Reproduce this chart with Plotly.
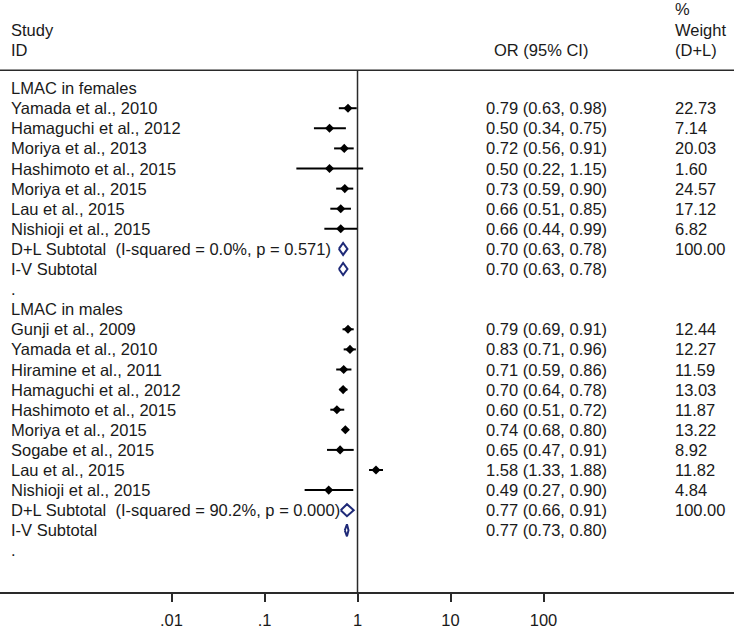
import plotly.graph_objects as go

# Studies and estimates
female_studies = ["Yamada et al., 2010", "Hamaguchi et al., 2012", "Moriya et al., 2013",
                  "Hashimoto et al., 2015", "Moriya et al., 2015", "Lau et al., 2015",
                  "Nishioji et al., 2015"]
female_or = [0.79, 0.50, 0.72, 0.50, 0.73, 0.66, 0.66]
female_lo = [0.63, 0.34, 0.56, 0.22, 0.59, 0.51, 0.44]
female_hi = [0.98, 0.75, 0.91, 1.15, 0.90, 0.85, 0.99]
female_weight = ["22.73", "7.14", "20.03", "1.60", "24.57", "17.12", "6.82"]
female_dl = [0.70, 0.63, 0.78]
female_iv = [0.70, 0.63, 0.78]
female_dl_label = "D+L Subtotal\u00a0\u00a0(I-squared = 0.0%, p = 0.571)"

male_studies = ["Gunji et al., 2009", "Yamada et al., 2010", "Hiramine et al., 2011",
                "Hamaguchi et al., 2012", "Hashimoto et al., 2015", "Moriya et al., 2015",
                "Sogabe et al., 2015", "Lau et al., 2015", "Nishioji et al., 2015"]
male_or = [0.79, 0.83, 0.71, 0.70, 0.60, 0.74, 0.65, 1.58, 0.49]
male_lo = [0.69, 0.71, 0.59, 0.64, 0.51, 0.68, 0.47, 1.33, 0.27]
male_hi = [0.91, 0.96, 0.86, 0.78, 0.72, 0.80, 0.91, 1.88, 0.90]
male_weight = ["12.44", "12.27", "11.59", "13.03", "11.87", "13.22", "8.92", "11.82", "4.84"]
male_dl = [0.77, 0.66, 0.91]
male_iv = [0.77, 0.73, 0.80]
male_dl_label = "D+L Subtotal\u00a0\u00a0(I-squared = 90.2%, p = 0.000)"

tick_vals = [0.01, 0.1, 1, 10, 100]
tick_text = [".01", ".1", "1", "10", "100"]

FONT = "Liberation Sans, Arial, sans-serif"
FS = 16.5
TXT = "#1a1a1a"
NAVY = "#1f2a78"

# build the row list: (kind, label, or, lo, hi, weight)
rows = []
groups = [("LMAC in females", female_studies, female_or, female_lo, female_hi, female_weight,
           female_dl, female_iv, female_dl_label),
          ("LMAC in males", male_studies, male_or, male_lo, male_hi, male_weight,
           male_dl, male_iv, male_dl_label)]
for title, names, ors, los, his, wts, dl, iv, dl_label in groups:
    rows.append(("head", title, None, None, None, ""))
    for n, o, l, h, w in zip(names, ors, los, his, wts):
        rows.append(("study", n, o, l, h, w))
    rows.append(("sub", dl_label, dl[0], dl[1], dl[2], "100.00"))
    rows.append(("sub", "I-V Subtotal", iv[0], iv[1], iv[2], ""))
    rows.append(("head", ".", None, None, None, ""))

fig = go.Figure()

ci_x, ci_y, pt_x, pt_y = [], [], [], []
dia_x, dia_y = [], []
annotations = []
half = 0.3
for i, (kind, label, o, lo, hi, w) in enumerate(rows):
    annotations.append(dict(x=9 / 734, y=i, xref="paper", yref="y", text=label,
                            xanchor="left", yanchor="middle", showarrow=False))
    if kind == "head":
        continue
    annotations.append(dict(x=484 / 734, y=i, xref="paper", yref="y",
                            text="%.2f (%.2f, %.2f)" % (o, lo, hi),
                            xanchor="left", yanchor="middle", showarrow=False))
    if w:
        annotations.append(dict(x=673 / 734, y=i, xref="paper", yref="y", text=w,
                                xanchor="left", yanchor="middle", showarrow=False))
    if kind == "study":
        ci_x += [lo, hi, None]
        ci_y += [i, i, None]
        pt_x.append(o)
        pt_y.append(i)
    else:
        dia_x += [lo, o, hi, o, lo, None]
        dia_y += [i, i - half, i, i + half, i, None]

# header lines
for txt, x, y in [("Study", 9, -2.91), ("ID", 9, -1.92), ("OR (95% CI)", 492, -1.92),
                  ("%", 673, -3.94), ("Weight", 673, -2.91), ("(D+L)", 673, -1.92)]:
    annotations.append(dict(x=x / 734, y=y, xref="paper", yref="y", text=txt,
                            xanchor="left", yanchor="middle", showarrow=False))

# null line at OR = 1
fig.add_trace(go.Scatter(x=[1, 1], y=[-0.887, 25.07], mode="lines",
                         line=dict(color="#2a2a2a", width=1.5), hoverinfo="skip"))
fig.add_trace(go.Scatter(x=ci_x, y=ci_y, mode="lines",
                         line=dict(color="black", width=2), hoverinfo="skip"))
fig.add_trace(go.Scatter(x=pt_x, y=pt_y, mode="markers",
                         marker=dict(symbol="diamond", size=7, color="black")))
fig.add_trace(go.Scatter(x=dia_x, y=dia_y, mode="lines",
                         line=dict(color=NAVY, width=2), hoverinfo="skip"))

fig.update_layout(
    width=734, height=629,
    margin=dict(l=0, r=0, t=0, b=31),
    paper_bgcolor="white", plot_bgcolor="white",
    showlegend=False,
    font=dict(family=FONT, size=FS, color=TXT),
    annotations=annotations,
    shapes=[dict(type="line", xref="paper", yref="y", x0=0, x1=1, y0=-0.887, y1=-0.887,
                 line=dict(color="#2a2a2a", width=1.5))],
    xaxis=dict(type="log", range=[-3.844, 4.048], tickvals=tick_vals, ticktext=tick_text,
               ticks="outside", ticklen=8, tickwidth=1.5, tickcolor="#2a2a2a",
               showline=True, linewidth=1.5, linecolor="#2a2a2a",
               showgrid=False, zeroline=False, ticklabelstandoff=4,
               tickfont=dict(family=FONT, size=FS, color=TXT), fixedrange=True),
    yaxis=dict(range=[25.07, -4.384], visible=False, fixedrange=True),
)

# drop the browser's default body margin so the figure sits at the page corner
fig.write_html("out.html", config={"displayModeBar": False},
               post_script="document.body.style.margin='0';")
